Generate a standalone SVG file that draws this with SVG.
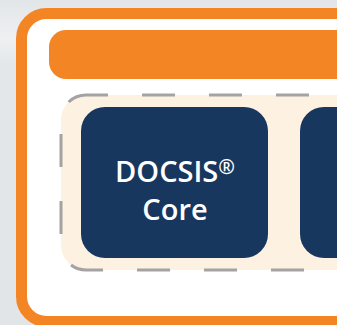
<svg xmlns="http://www.w3.org/2000/svg" width="337" height="325" viewBox="0 0 337 325">
  <defs>
    <linearGradient id="bg" x1="0" y1="0" x2="0" y2="1">
      <stop offset="0" stop-color="#e3e6e9"/>
      <stop offset="0.12" stop-color="#eef0f2"/>
      <stop offset="0.2" stop-color="#e4e7ea"/>
      <stop offset="1" stop-color="#e2e5e8"/>
    </linearGradient>
    <style>
      .frame { fill: #ffffff; stroke: #f38524; stroke-width: 11; }
      .bar { fill: #f38524; }
      .group { fill: #fdf1e1; stroke: #a3a3a3; stroke-width: 3; stroke-dasharray: 33 34; stroke-dashoffset: 11; }
      .node { fill: #17375e; }
      .label { fill: #ffffff; font-family: "Open Sans", "Noto Sans", sans-serif; font-weight: 600; font-size: 29px; text-anchor: middle; }
    </style>
  </defs>
  <rect x="0" y="0" width="337" height="325" fill="url(#bg)"/>
  <g id="frame">
    <rect class="frame" x="21.5" y="13.5" width="360" height="308" rx="25" ry="25"/>
  </g>
  <g id="header-bar">
    <rect class="bar" x="49" y="30" width="320" height="49" rx="17" ry="17"/>
  </g>
  <g id="group">
    <rect class="group" x="61" y="95" width="320" height="175" rx="25" ry="25"/>
  </g>
  <g id="docsis-core">
    <rect class="node" x="81" y="107" width="187" height="151" rx="24" ry="24"/>
    <text class="label" x="175" y="182">DOCSIS<tspan font-size="20px" dy="-8">®</tspan></text>
    <text class="label" x="175" y="220">Core</text>
  </g>
  <g id="node-2">
    <rect class="node" x="300" y="107" width="120" height="151" rx="24" ry="24"/>
  </g>
  <g id="connectors"/>
</svg>
